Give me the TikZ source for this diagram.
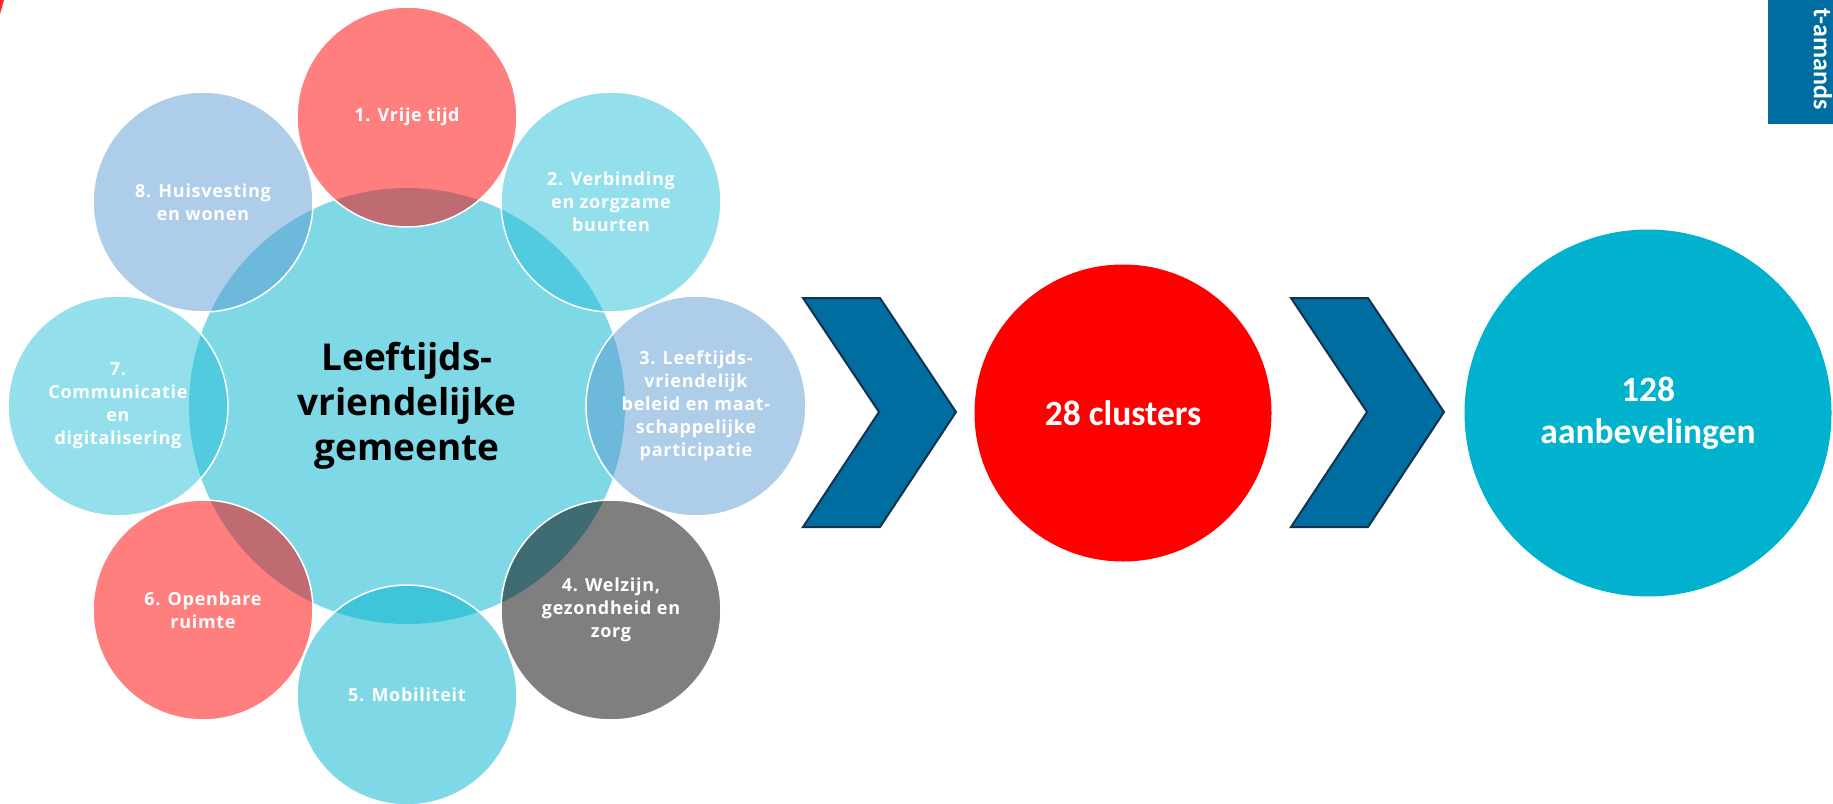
\documentclass[tikz,border=0pt]{standalone}
\usepackage{fontspec}
\setmainfont{Open Sans}
\newfontfamily\lblfont[LetterSpace=4]{Open Sans}
\newfontfamily\calfont{Carlito}
\definecolor{tealc}{HTML}{00B2CD}
\definecolor{tealb}{HTML}{27BFD9}
\definecolor{bluec}{HTML}{5B9BD3}
\definecolor{redc}{HTML}{FF0000}
\definecolor{chevfill}{HTML}{006DA0}
\definecolor{chevline}{HTML}{13324F}
\begin{document}
\begin{tikzpicture}[x=1pt,y=-1pt,
  outer/.style={circle, minimum size=220pt, inner sep=0pt, draw=white, line width=1.5pt,
    fill opacity=0.5, draw opacity=1, text opacity=1, text=white, align=center,
    font=\lblfont\bfseries\fontsize{18}{23}\selectfont},
  chevron/.style={fill=chevfill, draw=chevline, line width=2pt, line join=miter},
  bigtext/.style={text=white, align=center, font=\calfont\bfseries\fontsize{35.5}{42}\selectfont}]
\useasboundingbox (0,0) rectangle (1833,803);
\clip (0,0) rectangle (1833,803);
% tiny red fragment top-left
\fill[red!85!white] (0,0) -- (4,0) -- (0,14) -- cycle;
% centre circle
\node[circle, minimum size=436pt, inner sep=0pt, fill=tealc, fill opacity=0.5, text opacity=1,
  align=center, font=\bfseries\fontsize{37}{45}\selectfont] (c0) at (407,406)
  {Leeftijds-\\vriendelijke\\gemeente};
% outer circles
\node[outer, fill=redc]  (o1) at (407,117) {1. Vrije tijd};
\node[outer, fill=tealb] (o2) at (611,202) {2. Verbinding\\en zorgzame\\buurten};
\node[outer, fill=bluec] (o3) at (696,406) {3. Leeftijds-\\vriendelijk\\beleid en maat-\\schappelijke\\participatie};
\node[outer, fill=black] (o4) at (611,610) {4. Welzijn,\\gezondheid en\\zorg};
\node[outer, fill=tealc] (o5) at (407,695) {5. Mobiliteit};
\node[outer, fill=redc]  (o6) at (203,610) {6. Openbare\\ruimte};
\node[outer, fill=tealb] (o7) at (118,406) {7.\\Communicatie\\en\\digitalisering};
\node[outer, fill=bluec] (o8) at (203,202) {8. Huisvesting\\en wonen};
% chevrons
\draw[chevron] (803,298) -- (880,298) -- (956,412) -- (880,527) -- (803,527) -- (879,412) -- cycle;
\draw[chevron] (1291,298) -- (1368,298) -- (1444,412) -- (1368,527) -- (1291,527) -- (1367,412) -- cycle;
% result circles
\node[circle, minimum size=297pt, inner sep=0pt, fill=redc, bigtext] (n28) at (1123,413) {28 clusters};
\node[circle, minimum size=367pt, inner sep=0pt, fill=tealc, bigtext] (n128) at (1648,413) {128\\aanbevelingen};
% top-right tab
\fill[chevfill] (1768,0) rectangle (1833,124);
\node[rotate=-90, anchor=east, inner sep=0pt, text=white, font=\calfont\bfseries\fontsize{26}{28}\selectfont]
  (tab) at (1823,110) {t-amands};
\end{tikzpicture}
\end{document}
